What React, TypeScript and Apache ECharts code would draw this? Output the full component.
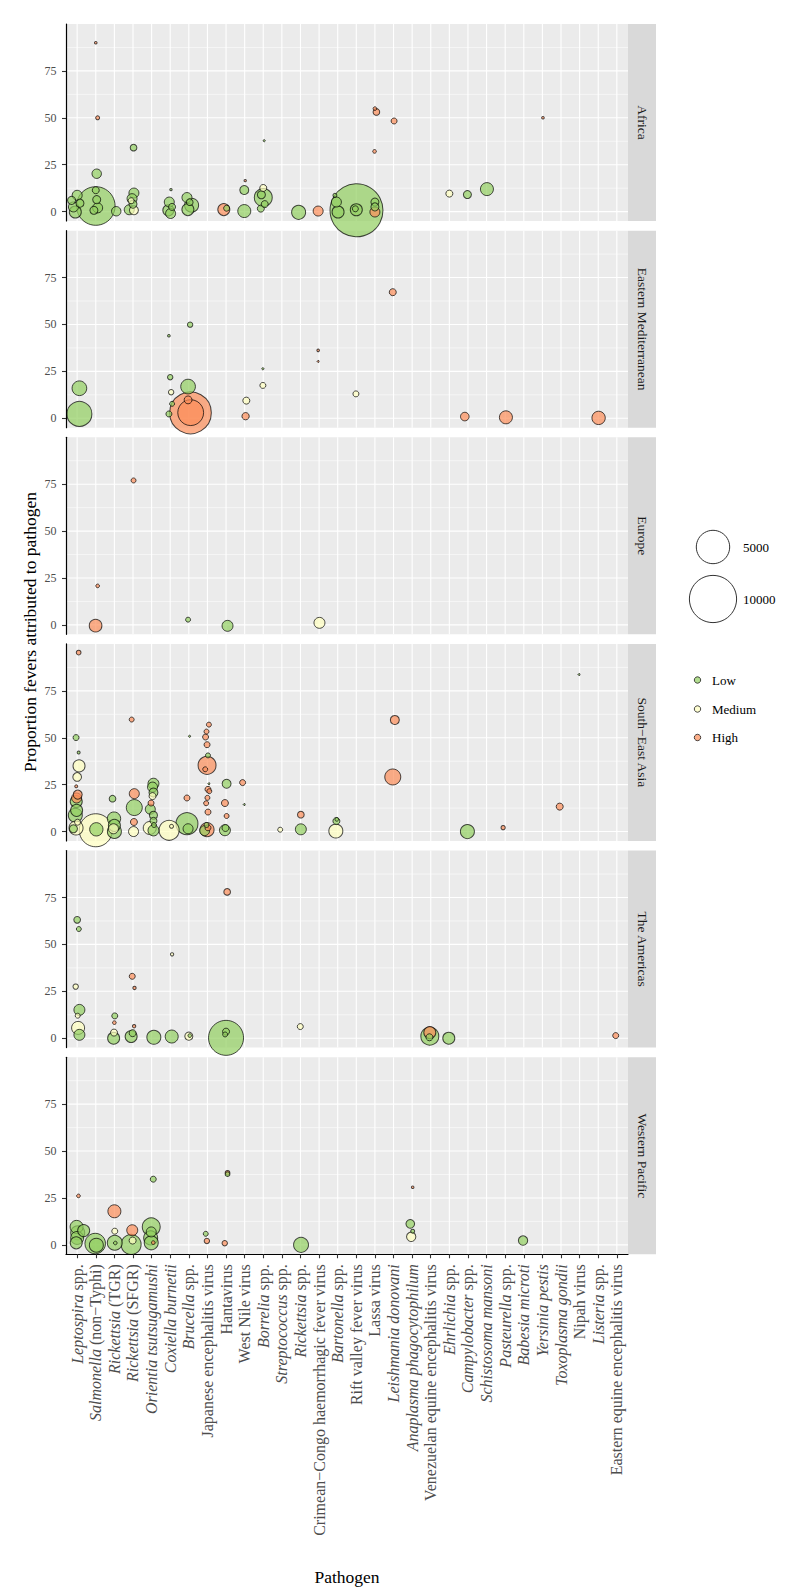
import React, { useEffect, useRef } from 'react';
import * as echarts from 'echarts';

const FONT = '"Liberation Serif", "DejaVu Serif", "Times New Roman", serif';

const pathogenLabels = [
  '{i|Leptospira} spp.',
  '{i|Salmonella} (non−Typhi)',
  '{i|Rickettsia} (TGR)',
  '{i|Rickettsia} (SFGR)',
  '{i|Orientia tsutsugamushi}',
  '{i|Coxiella burnetii}',
  '{i|Brucella} spp.',
  'Japanese encephalitis virus',
  'Hantavirus',
  'West Nile virus',
  '{i|Borrelia} spp.',
  '{i|Streptococcus} spp.',
  '{i|Rickettsia} spp.',
  'Crimean−Congo haemorrhagic fever virus',
  '{i|Bartonella} spp.',
  'Rift valley fever virus',
  'Lassa virus',
  '{i|Leishmania donovani}',
  '{i|Anaplasma phagocytophilum}',
  'Venezuelan equine encephalitis virus',
  '{i|Ehrlichia} spp.',
  '{i|Campylobacter} spp.',
  '{i|Schistosoma mansoni}',
  '{i|Pasteurella} spp.',
  '{i|Babesia microti}',
  '{i|Yersinia pestis}',
  '{i|Toxoplasma gondii}',
  'Nipah virus',
  '{i|Listeria} spp.',
  'Eastern equine encephalitis virus',
];

const regions = ['Africa', 'Eastern Mediterranean', 'Europe', 'South−East Asia', 'The Americas', 'Western Pacific'];
const riskLevels = ['Low', 'Medium', 'High'];
const riskCodes = ['L', 'M', 'H'];
const riskColors = ['#91CF60', '#FFFFBF', '#FC8D59'];
const yTickValues = [0, 25, 50, 75];
const yMinorValues = [12.5, 37.5, 62.5, 87.5];
const sizeBreaks = [5000, 10000];

// [x position (pathogen index, as placed), proportion %, sample size, risk]
const africa = [
  [0.0, 8.7, 450, 'L'], [-0.2, 2.5, 450, 'L'], [-0.1, -0.2, 650, 'L'], [-0.3, 6.0, 290, 'L'], [0.15, 4.5, 290, 'L'],
  [1.0, 90, 30, 'H'], [1.1, 50, 70, 'H'], [1.05, 20.2, 400, 'L'], [1.0, 3.0, 6700, 'L'], [1.0, 11.4, 220, 'L'],
  [1.05, 6.4, 290, 'L'], [0.9, 0.7, 290, 'L'], [1.1, 2.0, 450, 'L'],
  [2.1, 0.2, 400, 'L'],
  [3.03, 34.1, 200, 'L'], [3.05, 9.9, 450, 'L'], [2.95, 6.9, 450, 'L'], [3.0, 4.0, 290, 'L'], [2.9, 5.8, 160, 'M'],
  [3.05, 0.7, 360, 'M'], [2.8, 1.0, 450, 'L'],
  [5.04, 11.7, 25, 'L'], [4.95, 5.1, 450, 'L'], [4.9, 0.7, 550, 'L'], [5.02, -1.0, 450, 'L'], [5.1, 2.5, 220, 'L'],
  [5.9, 7.5, 450, 'L'], [6.15, 3.4, 880, 'L'], [5.95, 1.1, 650, 'L'], [6.05, 5.0, 200, 'L'],
  [7.88, 1.1, 650, 'H'], [8.03, 1.8, 160, 'L'],
  [9.03, 16.5, 25, 'H'], [8.98, 11.5, 360, 'L'], [8.98, 0.3, 760, 'L'],
  [10.05, 37.8, 20, 'L'], [10.0, 12.6, 220, 'M'], [10.0, 7.5, 1450, 'L'], [9.9, 9.0, 290, 'L'], [9.87, 1.6, 220, 'L'], [10.08, 4.0, 220, 'L'],
  [11.9, -0.4, 880, 'L'],
  [12.95, 0.3, 450, 'H'],
  [13.93, 5.1, 450, 'L'], [14.02, -0.2, 650, 'L'], [13.85, 8.7, 70, 'L'],
  [15.01, 0.7, 12600, 'L'], [14.95, 1.5, 160, 'L'], [15.0, 1.0, 650, 'L'],
  [16.0, 5.1, 290, 'L'], [16.0, 2.5, 290, 'L'], [16.0, -0.2, 450, 'H'], [15.98, 32.1, 60, 'H'], [16.0, 54.9, 60, 'H'], [16.08, 53.1, 200, 'H'],
  [17.03, 48.3, 160, 'H'],
  [20.0, 9.6, 220, 'M'],
  [20.97, 9.1, 290, 'L'],
  [22.02, 12.0, 760, 'L'],
  [25.03, 50, 30, 'H'],
];

const easternMediterranean = [
  [0.12, 16.0, 970, 'L'], [0.12, 2.3, 2800, 'L'],
  [4.93, 44, 30, 'L'], [5.0, 21.9, 130, 'L'], [5.05, 13.9, 130, 'M'], [5.1, 7.7, 110, 'L'], [4.93, 2.3, 160, 'L'],
  [6.07, 49.9, 130, 'L'], [5.96, 16.9, 970, 'L'], [6.09, 2.9, 7800, 'H'], [6.1, 3.0, 3000, 'H'], [5.96, 9.8, 280, 'H'],
  [9.09, 9.4, 220, 'M'], [9.05, 1.1, 240, 'H'],
  [9.98, 26.4, 20, 'L'], [9.98, 17.5, 160, 'M'],
  [12.95, 36.2, 30, 'H'], [12.95, 30.3, 15, 'H'],
  [14.98, 13.0, 160, 'M'],
  [16.96, 67.2, 220, 'H'],
  [20.83, 0.9, 330, 'H'],
  [23.04, 0.5, 760, 'H'],
  [28.02, 0.2, 800, 'H'],
];

const europe = [
  [3.03, 77, 110, 'H'],
  [1.1, 20.8, 60, 'H'], [0.99, -0.4, 720, 'H'],
  [5.96, 2.8, 110, 'L'],
  [8.08, -0.5, 540, 'L'],
  [13.02, 1.1, 540, 'M'],
];

const southEastAsia = [
  [0.08, 95.4, 100, 'H'], [-0.06, 50.1, 160, 'L'], [0.08, 42.1, 40, 'L'], [0.1, 35.0, 650, 'M'], [0.0, 29.1, 340, 'M'],
  [-0.05, 24.1, 40, 'H'], [0.03, 19.7, 360, 'H'], [-0.03, 17.9, 450, 'H'], [-0.05, 16.0, 650, 'L'], [-0.03, 11.3, 650, 'L'],
  [-0.1, 8.7, 880, 'L'], [-0.06, 1.9, 880, 'M'], [-0.2, 1.5, 290, 'L'], [0.02, 5.0, 160, 'M'],
  [1.0, 0.7, 4900, 'M'], [1.03, 1.2, 800, 'L'],
  [1.9, 17.5, 200, 'L'], [1.98, 6.9, 800, 'L'], [2.0, 3.3, 650, 'L'], [2.0, 0.1, 880, 'L'], [1.95, 1.5, 450, 'M'],
  [2.93, 59.7, 110, 'H'], [3.07, 20.2, 450, 'H'], [3.07, 12.8, 1150, 'L'], [3.05, 5.1, 220, 'H'], [3.03, 0.0, 450, 'M'],
  [4.1, 25.5, 540, 'L'], [4.05, 23.7, 450, 'L'], [4.1, 20.8, 360, 'L'], [4.05, 18.9, 220, 'M'], [3.97, 15.2, 160, 'H'],
  [3.93, 11.9, 450, 'L'], [4.1, 8.7, 290, 'L'], [4.1, 5.7, 220, 'L'], [3.9, 1.9, 760, 'M'], [4.1, 0.6, 540, 'L'], [4.13, 3.5, 110, 'L'],
  [5.07, 2.8, 70, 'M'], [4.94, 0.7, 1800, 'M'],
  [5.9, 17.9, 160, 'H'], [5.9, 4.2, 2170, 'L'], [5.96, 1.5, 450, 'L'], [6.04, 50.8, 20, 'L'],
  [7.08, 57.0, 110, 'H'], [6.95, 53.3, 110, 'H'], [6.9, 50.4, 160, 'H'], [6.98, 46.3, 160, 'H'], [7.03, 40.6, 110, 'L'],
  [6.98, 35.3, 1450, 'H'], [6.88, 33.2, 110, 'H'], [7.08, 25.5, 15, 'L'], [7.03, 22.5, 160, 'H'], [7.1, 21.5, 110, 'H'],
  [7.0, 18.0, 110, 'H'], [6.93, 15.1, 110, 'H'], [7.03, 10.4, 160, 'H'], [6.98, 1.0, 880, 'H'], [6.85, 0.5, 450, 'L'],
  [7.03, 2.0, 160, 'H'], [6.95, 3.5, 110, 'L'],
  [8.03, 25.5, 360, 'L'], [7.94, 15.2, 220, 'H'], [8.03, 8.3, 110, 'H'], [7.97, 1.9, 220, 'L'], [7.94, 0.7, 540, 'L'],
  [8.89, 26.1, 160, 'H'], [8.98, 14.4, 15, 'L'],
  [10.91, 1.0, 110, 'M'],
  [12.02, 9.0, 200, 'H'], [12.02, 1.2, 540, 'L'],
  [13.93, 5.6, 220, 'L'], [13.95, 6.5, 60, 'L'], [13.9, 0.3, 880, 'M'],
  [17.07, 59.5, 360, 'H'], [16.96, 29.1, 1150, 'H'],
  [20.97, 0.0, 880, 'L'],
  [22.89, 2.1, 80, 'H'],
  [25.93, 13.3, 220, 'H'],
  [26.97, 83.7, 15, 'L'],
];

const americas = [
  [0.0, 63.1, 200, 'L'], [0.09, 58.2, 110, 'L'], [-0.08, 27.5, 130, 'M'], [0.12, 15.1, 540, 'L'], [0.03, 12.0, 110, 'M'],
  [0.05, 5.5, 760, 'M'], [0.12, 1.8, 540, 'L'],
  [2.02, 11.9, 160, 'L'], [2.0, 8.3, 60, 'H'], [1.98, 3.0, 220, 'M'], [1.96, 0.0, 650, 'L'],
  [2.96, 33.0, 160, 'H'], [3.08, 26.8, 50, 'H'], [3.06, 6.4, 50, 'H'], [2.98, 2.7, 220, 'L'], [2.9, 0.9, 650, 'L'],
  [4.12, 0.5, 880, 'L'],
  [5.1, 44.7, 50, 'M'], [5.08, 0.9, 760, 'L'],
  [6.0, 1.1, 290, 'M'], [6.05, 1.4, 60, 'L'],
  [8.06, 78.0, 200, 'H'], [8.0, 0.2, 5500, 'L'], [8.0, 3.5, 220, 'L'], [7.95, 2.0, 110, 'L'],
  [11.99, 6.2, 160, 'M'],
  [18.95, 1.1, 1450, 'L'], [18.95, 3.0, 650, 'H'], [18.93, 0.5, 220, 'L'],
  [19.97, 0.0, 650, 'L'],
  [28.94, 1.4, 160, 'H'],
];

const westernPacific = [
  [0.07, 26.1, 60, 'H'], [-0.03, 9.6, 760, 'L'], [0.03, 6.4, 880, 'L'], [0.0, 3.7, 760, 'L'], [-0.05, 1.1, 650, 'L'], [0.35, 7.6, 650, 'L'],
  [0.97, 0.7, 1900, 'L'], [1.03, -0.2, 880, 'L'],
  [2.0, 17.9, 760, 'H'], [2.02, 7.3, 160, 'M'], [2.02, 1.1, 1000, 'L'], [2.05, 1.0, 60, 'L'],
  [2.96, 7.8, 540, 'H'], [2.98, 2.3, 220, 'M'], [2.9, 0.2, 1800, 'L'],
  [4.09, 35.0, 160, 'L'], [3.98, 9.6, 1450, 'L'], [3.98, 6.9, 450, 'L'], [3.95, 3.7, 880, 'L'], [4.09, 1.2, 60, 'H'], [3.98, 1.1, 880, 'L'],
  [6.91, 5.9, 110, 'L'], [6.97, 2.1, 130, 'H'],
  [7.93, 0.9, 130, 'H'], [8.08, 38.4, 100, 'H'], [8.08, 37.7, 100, 'L'],
  [12.03, 0.0, 1000, 'L'],
  [18.03, 30.7, 30, 'H'], [17.9, 11.2, 340, 'L'], [18.03, 7.3, 70, 'L'], [17.95, 4.3, 390, 'M'],
  [23.96, 2.3, 390, 'L'],
];

const regionData = [africa, easternMediterranean, europe, southEastAsia, americas, westernPacific];

// layout
const PANEL_LEFT = 66;
const PANEL_WIDTH = 562;
const PANEL_TOP0 = 24;
const PANEL_PITCH = 206.65;
const PANEL_HEIGHT = 197;
const STRIP_WIDTH = 28;
const SIZE_K = 0.472; // px diameter per sqrt(sample size)

const sizeOf = (n: number) => SIZE_K * Math.sqrt(n);

export default function App() {
  const ref = useRef<HTMLDivElement>(null);

  useEffect(() => {
    const chart = echarts.init(ref.current as HTMLDivElement, null, { renderer: 'svg' });
    const catIdx = pathogenLabels.map((_, i) => i);
    const nPanels = regions.length;

    const grids: any[] = [];
    const xAxes: any[] = [];
    const yAxes: any[] = [];
    const series: any[] = [];
    const graphics: any[] = [];

    const gridLineData = [
      ...catIdx.map((i) => [i, 50, 0]),
      ...yTickValues.map((v) => [0, v, 1]),
      ...yMinorValues.map((v) => [0, v, 2]),
    ];

    for (let k = 0; k < nPanels; k++) {
      const top = PANEL_TOP0 + k * PANEL_PITCH;
      const isBottom = k === nPanels - 1;
      grids.push({
        left: PANEL_LEFT,
        top,
        width: PANEL_WIDTH,
        height: PANEL_HEIGHT,
        show: true,
        backgroundColor: '#EBEBEB',
        borderWidth: 0,
        borderColor: 'transparent',
        containLabel: false,
      });
      xAxes.push({
        type: 'value',
        gridIndex: k,
        min: -0.6,
        max: 29.6,
        z: 5,
        show: true,
        axisLine: { show: isBottom, onZero: false, lineStyle: { color: '#000', width: 1.2 } },
        axisTick: {
          show: isBottom,
          customValues: catIdx,
          length: 4,
          lineStyle: { color: '#333', width: 1.1 },
        },
        axisLabel: {
          show: isBottom,
          customValues: catIdx,
          rotate: 90,
          margin: 10,
          fontSize: 16,
          fontFamily: FONT,
          color: '#4D4D4D',
          formatter: (v: number) => pathogenLabels[Math.round(v)] ?? '',
          rich: { i: { fontStyle: 'italic', fontSize: 16, fontFamily: FONT, color: '#4D4D4D' } },
        },
        splitLine: { show: false },
      });
      yAxes.push({
        type: 'value',
        gridIndex: k,
        min: -5,
        max: 100,
        z: 5,
        axisLine: { show: true, onZero: false, lineStyle: { color: '#000', width: 1.2 } },
        axisTick: { show: true, customValues: yTickValues, length: 4, lineStyle: { color: '#333', width: 1.1 } },
        axisLabel: {
          show: true,
          customValues: yTickValues,
          margin: 9.5,
          fontSize: 12,
          fontFamily: FONT,
          color: '#4D4D4D',
        },
        splitLine: { show: false },
      });

      series.push({
        type: 'custom',
        xAxisIndex: k,
        yAxisIndex: k,
        z: 1,
        silent: true,
        data: gridLineData,
        encode: { x: 0, y: 1 },
        renderItem: (params: any, api: any) => {
          const cs = params.coordSys;
          const kind = api.value(2);
          if (kind === 0) {
            const p = api.coord([api.value(0), 0]);
            return {
              type: 'line',
              shape: { x1: p[0], y1: cs.y, x2: p[0], y2: cs.y + cs.height },
              style: { stroke: '#FFFFFF', lineWidth: 1.1 },
            };
          }
          const p = api.coord([0, api.value(1)]);
          return {
            type: 'line',
            shape: { x1: cs.x, y1: p[1], x2: cs.x + cs.width, y2: p[1] },
            style: { stroke: '#FFFFFF', lineWidth: kind === 1 ? 1.1 : 0.55 },
          };
        },
      });

      const pts = [...regionData[k]].sort((a: any, b: any) => b[2] - a[2]);
      series.push({
        type: 'scatter',
        name: regions[k],
        xAxisIndex: k,
        yAxisIndex: k,
        z: 3,
        clip: true,
        silent: true,
        symbol: 'circle',
        symbolSize: (val: number[]) => sizeOf(val[2]),
        itemStyle: { opacity: 0.7, borderColor: '#000', borderWidth: 1 },
        emphasis: { disabled: true },
        data: pts.map((d: any) => ({
          value: [d[0], d[1], d[2]],
          itemStyle: { color: riskColors[riskCodes.indexOf(d[3])] },
        })),
      });

      // facet strip
      graphics.push({
        type: 'rect',
        shape: { x: PANEL_LEFT + PANEL_WIDTH, y: top, width: STRIP_WIDTH, height: PANEL_HEIGHT },
        style: { fill: '#D9D9D9' },
        silent: true,
      });
      graphics.push({
        type: 'text',
        x: PANEL_LEFT + PANEL_WIDTH + STRIP_WIDTH / 2,
        y: top + PANEL_HEIGHT / 2,
        rotation: -Math.PI / 2,
        silent: true,
        style: {
          text: regions[k],
          fontSize: 13.5,
          fontFamily: FONT,
          fill: '#1A1A1A',
          align: 'center',
          verticalAlign: 'middle',
        },
      });
    }

    // axis titles
    graphics.push({
      type: 'text',
      x: 30,
      y: 632,
      rotation: Math.PI / 2,
      silent: true,
      style: {
        text: 'Proportion fevers attributed to pathogen',
        fontSize: 17.5,
        fontFamily: FONT,
        fill: '#000',
        align: 'center',
        verticalAlign: 'middle',
      },
    });
    graphics.push({
      type: 'text',
      x: 347,
      y: 1577,
      silent: true,
      style: {
        text: 'Pathogen',
        fontSize: 17.5,
        fontFamily: FONT,
        fill: '#000',
        align: 'center',
        verticalAlign: 'middle',
      },
    });

    // size legend
    const sizeLegendY = [547, 599];
    sizeBreaks.forEach((b, i) => {
      graphics.push({
        type: 'circle',
        shape: { cx: 713, cy: sizeLegendY[i], r: sizeOf(b) / 2 },
        style: { fill: 'none', stroke: '#333', lineWidth: 1 },
        silent: true,
      });
      graphics.push({
        type: 'text',
        x: 743,
        y: sizeLegendY[i],
        silent: true,
        style: { text: String(b), fontSize: 13, fontFamily: FONT, fill: '#000', align: 'left', verticalAlign: 'middle' },
      });
    });

    // colour legend
    const colLegendY = [680, 709, 737.5];
    riskLevels.forEach((lvl, i) => {
      graphics.push({
        type: 'circle',
        shape: { cx: 697.5, cy: colLegendY[i], r: 3.2 },
        style: { fill: riskColors[i], stroke: '#000', lineWidth: 1, opacity: 0.7 },
        silent: true,
      });
      graphics.push({
        type: 'text',
        x: 712,
        y: colLegendY[i],
        silent: true,
        style: { text: lvl, fontSize: 13, fontFamily: FONT, fill: '#000', align: 'left', verticalAlign: 'middle' },
      });
    });

    chart.setOption({
      animation: false,
      backgroundColor: '#FFFFFF',
      grid: grids,
      xAxis: xAxes,
      yAxis: yAxes,
      series,
      graphic: { elements: graphics },
    });

    return () => chart.dispose();
  }, []);

  return (
    <div
      ref={ref}
      style={{ position: 'fixed', left: 0, top: 0, width: 800, height: 1587, background: '#FFFFFF' }}
    />
  );
}
